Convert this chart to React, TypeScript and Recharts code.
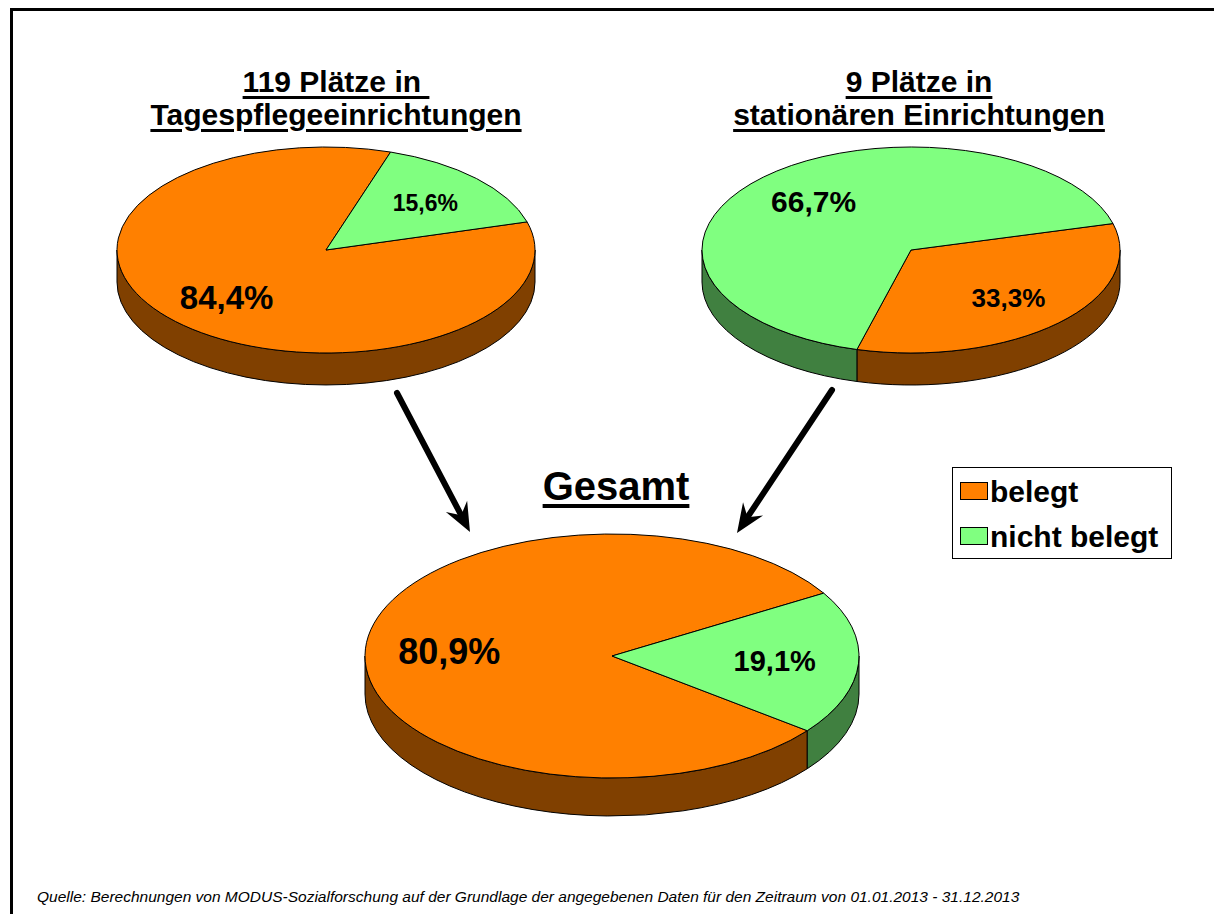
import React from 'react'
import { Cell, Pie, PieChart } from 'recharts'

// values (percent of places)
const categories = ['belegt', 'nicht belegt']
const tagespflegeValues = [84.4, 15.6]
const stationaerValues = [33.3, 66.7]
const gesamtValues = [80.9, 19.1]

const topColors = ['#FF8000', '#80FF80']
const sideColors = ['#804000', '#408040']

const FONT = '"Liberation Sans", Arial, Helvetica, sans-serif'
const RAD = Math.PI / 180

type PieCfg = {
  key: string
  values: number[]
  cx: number
  cy: number
  rx: number
  ry: number
  depth: number
  startAngle: number
  labelSizes: number[]
}

const pies: PieCfg[] = [
  { key: 'tagespflege', values: tagespflegeValues, cx: 326, cy: 250, rx: 209, ry: 103, depth: 32, startAngle: 72, labelSizes: [33, 23] },
  { key: 'stationaer', values: stationaerValues, cx: 911, cy: 250, rx: 209, ry: 103, depth: 32, startAngle: 255, labelSizes: [26, 30] },
  { key: 'gesamt', values: gesamtValues, cx: 612, cy: 656, rx: 247, ry: 122, depth: 38, startAngle: 31, labelSizes: [36, 29] },
]

const toRows = (values: number[]) => categories.map((name, i) => ({ name, value: values[i] }))
const fmt = (v: number) => v.toFixed(1).replace('.', ',') + '%'

function pt(cx: number, cy: number, rx: number, ry: number, a: number, dy = 0) {
  return [cx + rx * Math.cos(a * RAD), cy - ry * Math.sin(a * RAD) + dy]
}

// elliptical sector with a front wall, so the pie looks tilted like the original
function slice3D(props: any, cfg: PieCfg) {
  const { cx, cy, outerRadius, startAngle, endAngle, fill } = props
  const rx = outerRadius
  const ry = (outerRadius * cfg.ry) / cfg.rx
  const d = cfg.depth
  const a1 = Math.min(startAngle, endAngle)
  const a2 = Math.max(startAngle, endAngle)
  const side = sideColors[topColors.indexOf(fill)] ?? '#555'

  const walls: string[] = []
  for (let k = -1; k <= 2; k++) {
    const b1 = Math.max(a1, 180 + 360 * k)
    const b2 = Math.min(a2, 360 + 360 * k)
    if (b2 - b1 > 0.01) {
      const [x1, y1] = pt(cx, cy, rx, ry, b1)
      const [x2, y2] = pt(cx, cy, rx, ry, b2)
      walls.push(
        `M${x1},${y1} A${rx},${ry} 0 0 0 ${x2},${y2} L${x2},${y2 + d} A${rx},${ry} 0 0 1 ${x1},${y1 + d} Z`
      )
    }
  }

  const [sx, sy] = pt(cx, cy, rx, ry, a1)
  const [ex, ey] = pt(cx, cy, rx, ry, a2)
  const large = a2 - a1 > 180 ? 1 : 0
  const top = `M${cx},${cy} L${sx},${sy} A${rx},${ry} 0 ${large} 0 ${ex},${ey} Z`

  return (
    <g>
      {walls.map((w, i) => (
        <path key={i} d={w} fill={side} stroke="#000" strokeWidth={1} strokeLinejoin="round" />
      ))}
      <path d={top} fill={fill} stroke="#000" strokeWidth={1} strokeLinejoin="round" />
    </g>
  )
}

function renderLabel(props: any, cfg: PieCfg) {
  const { cx, cy, midAngle, outerRadius, index, value } = props
  const f = 0.66
  const x = cx + outerRadius * f * Math.cos(midAngle * RAD)
  const y = cy - ((outerRadius * cfg.ry) / cfg.rx) * f * Math.sin(midAngle * RAD)
  return (
    <text
      key={`${cfg.key}-${index}`}
      x={x}
      y={y}
      textAnchor="middle"
      dominantBaseline="central"
      fontFamily={FONT}
      fontWeight="bold"
      fontSize={cfg.labelSizes[index]}
      fill="#000"
    >
      {fmt(value)}
    </text>
  )
}

function Arrow({ x1, y1, x2, y2 }: { x1: number; y1: number; x2: number; y2: number }) {
  const len = Math.hypot(x2 - x1, y2 - y1)
  const ux = (x2 - x1) / len
  const uy = (y2 - y1) / len
  const px = -uy
  const py = ux
  const bx = x2 - ux * 29
  const by = y2 - uy * 29
  const nx = x2 - ux * 19
  const ny = y2 - uy * 19
  const points = [
    [x2, y2],
    [bx + px * 12, by + py * 12],
    [nx, ny],
    [bx - px * 12, by - py * 12],
  ]
    .map((p) => p.join(','))
    .join(' ')
  return (
    <g>
      <line x1={x1} y1={y1} x2={nx} y2={ny} stroke="#000" strokeWidth={6} strokeLinecap="round" />
      <polygon points={points} fill="#000" />
    </g>
  )
}

const titleStyle: React.CSSProperties = {
  position: 'absolute',
  width: 500,
  textAlign: 'center',
  fontSize: 30,
  lineHeight: '33px',
  fontWeight: 'bold',
  textDecoration: 'underline',
  textDecorationThickness: 3,
  textUnderlineOffset: 4,
  whiteSpace: 'pre',
}

export default function App() {
  return (
    <div
      style={{
        position: 'absolute',
        left: 0,
        top: 0,
        width: 1214,
        height: 914,
        overflow: 'hidden',
        background: '#fff',
        fontFamily: FONT,
        color: '#000',
      }}
    >
      <div style={{ position: 'absolute', left: 10, top: 8, width: 1400, height: 1100, border: '3px solid #000' }} />

      <div style={{ ...titleStyle, left: 336 - 250, top: 64.5 }}>
        {'119 Plätze in \nTagespflegeeinrichtungen'}
      </div>
      <div style={{ ...titleStyle, left: 919 - 250, top: 64.5 }}>
        {'9 Plätze in\nstationären Einrichtungen'}
      </div>
      <div
        style={{
          ...titleStyle,
          left: 616 - 250,
          top: 463,
          fontSize: 40,
          lineHeight: '46px',
          textDecorationThickness: 4,
        }}
      >
        Gesamt
      </div>

      <div style={{ position: 'absolute', left: 0, top: 0 }}>
        <PieChart width={1214} height={914} margin={{ top: 0, right: 0, bottom: 0, left: 0 }}>
          {pies.map((cfg) => (
            <Pie
              key={cfg.key}
              data={toRows(cfg.values)}
              dataKey="value"
              nameKey="name"
              cx={cfg.cx}
              cy={cfg.cy}
              innerRadius={0}
              outerRadius={cfg.rx}
              startAngle={cfg.startAngle}
              endAngle={cfg.startAngle + 360}
              stroke="#000"
              strokeWidth={1}
              isAnimationActive={false}
              labelLine={false}
              label={(p: any) => renderLabel(p, cfg)}
              shape={(p: any) => slice3D(p, cfg)}
            >
              {categories.map((c, i) => (
                <Cell key={c} fill={topColors[i]} />
              ))}
            </Pie>
          ))}
        </PieChart>
      </div>

      <svg width={1214} height={914} style={{ position: 'absolute', left: 0, top: 0 }}>
        <Arrow x1={397} y1={393} x2={470} y2={532} />
        <Arrow x1={832} y1={390} x2={737} y2={533} />
      </svg>

      <div
        style={{
          position: 'absolute',
          left: 952,
          top: 467,
          width: 218,
          height: 90,
          border: '1.5px solid #000',
          background: '#fff',
        }}
      />
      {categories.map((c, i) => (
        <React.Fragment key={c}>
          <div
            style={{
              position: 'absolute',
              left: 960,
              top: 482 + i * 45,
              width: 26,
              height: 16,
              border: '1px solid #000',
              background: topColors[i],
            }}
          />
          <div
            style={{
              position: 'absolute',
              left: 990,
              top: 475 + i * 45,
              fontSize: 30,
              lineHeight: '33px',
              fontWeight: 'bold',
              whiteSpace: 'pre',
            }}
          >
            {c}
          </div>
        </React.Fragment>
      ))}

      <div
        style={{
          position: 'absolute',
          left: 37,
          top: 887.5,
          fontSize: 15.5,
          lineHeight: '18px',
          fontStyle: 'italic',
          whiteSpace: 'pre',
        }}
      >
        Quelle: Berechnungen von MODUS-Sozialforschung auf der Grundlage der angegebenen Daten für den Zeitraum von 01.01.2013 - 31.12.2013
      </div>
    </div>
  )
}
